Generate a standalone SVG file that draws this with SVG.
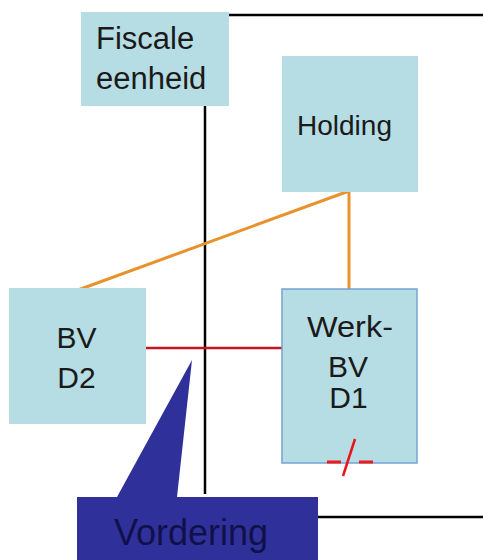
<svg xmlns="http://www.w3.org/2000/svg" width="483" height="560" viewBox="0 0 483 560">
<style>
.box{fill:#b6dde3}
.t{font-family:"Liberation Sans",Arial,sans-serif;fill:#1a1a1a}
.blk{stroke:#000;stroke-width:2.5;fill:none}
.org{stroke:#e8922c;stroke-width:3;fill:none}
.red{stroke:#c8141e;stroke-width:2.5;fill:none}
</style>
<rect width="483" height="560" fill="#fff"/>
<g id="connectors">
<line class="blk" x1="229" y1="15" x2="483" y2="15"/>
<line class="blk" x1="205" y1="106" x2="205" y2="494"/>
<line class="blk" x1="318" y1="517" x2="483" y2="517"/>
<line class="org" x1="349" y1="191" x2="78" y2="290"/>
<line class="org" x1="349" y1="191" x2="349" y2="289"/>
<line class="red" x1="146" y1="348" x2="282" y2="348"/>
</g>
<g id="fiscale-eenheid">
<rect class="box" x="81" y="12" width="148" height="94"/>
<text class="t" x="96" y="49" font-size="31">Fiscale</text>
<text class="t" x="96" y="89" font-size="31">eenheid</text>
</g>
<g id="holding">
<rect class="box" x="282" y="56" width="136" height="136"/>
<text class="t" x="344.5" y="135" font-size="28" text-anchor="middle">Holding</text>
</g>
<g id="bv-d2">
<rect class="box" x="9" y="288" width="137" height="136"/>
<text class="t" x="76.5" y="348" font-size="30" text-anchor="middle">BV</text>
<text class="t" x="76.5" y="388" font-size="30" text-anchor="middle">D2</text>
</g>
<g id="werk-bv-d1">
<rect class="box" x="282" y="289" width="135" height="174" stroke="#74a3d4" stroke-width="1.5"/>
<text class="t" x="350" y="337" font-size="30" text-anchor="middle" textLength="86" lengthAdjust="spacingAndGlyphs">Werk-</text>
<text class="t" x="348" y="377" font-size="30" text-anchor="middle">BV</text>
<text class="t" x="348.5" y="408" font-size="30" text-anchor="middle">D1</text>
<line x1="327" y1="462" x2="341" y2="462" stroke="#f01c1c" stroke-width="3"/>
<line x1="359" y1="462" x2="373" y2="462" stroke="#f01c1c" stroke-width="3"/>
<line x1="355" y1="439" x2="343" y2="476" stroke="#e8141c" stroke-width="2.5"/>
</g>
<g id="vordering">
<path d="M77 497 H117 L192 360 L177 497 H318 V560 H77 Z" fill="#30309a"/>
<text x="191" y="545" font-size="36" text-anchor="middle" font-family="Liberation Sans, Arial, sans-serif" fill="#10104a">Vordering</text>
</g>
</svg>
